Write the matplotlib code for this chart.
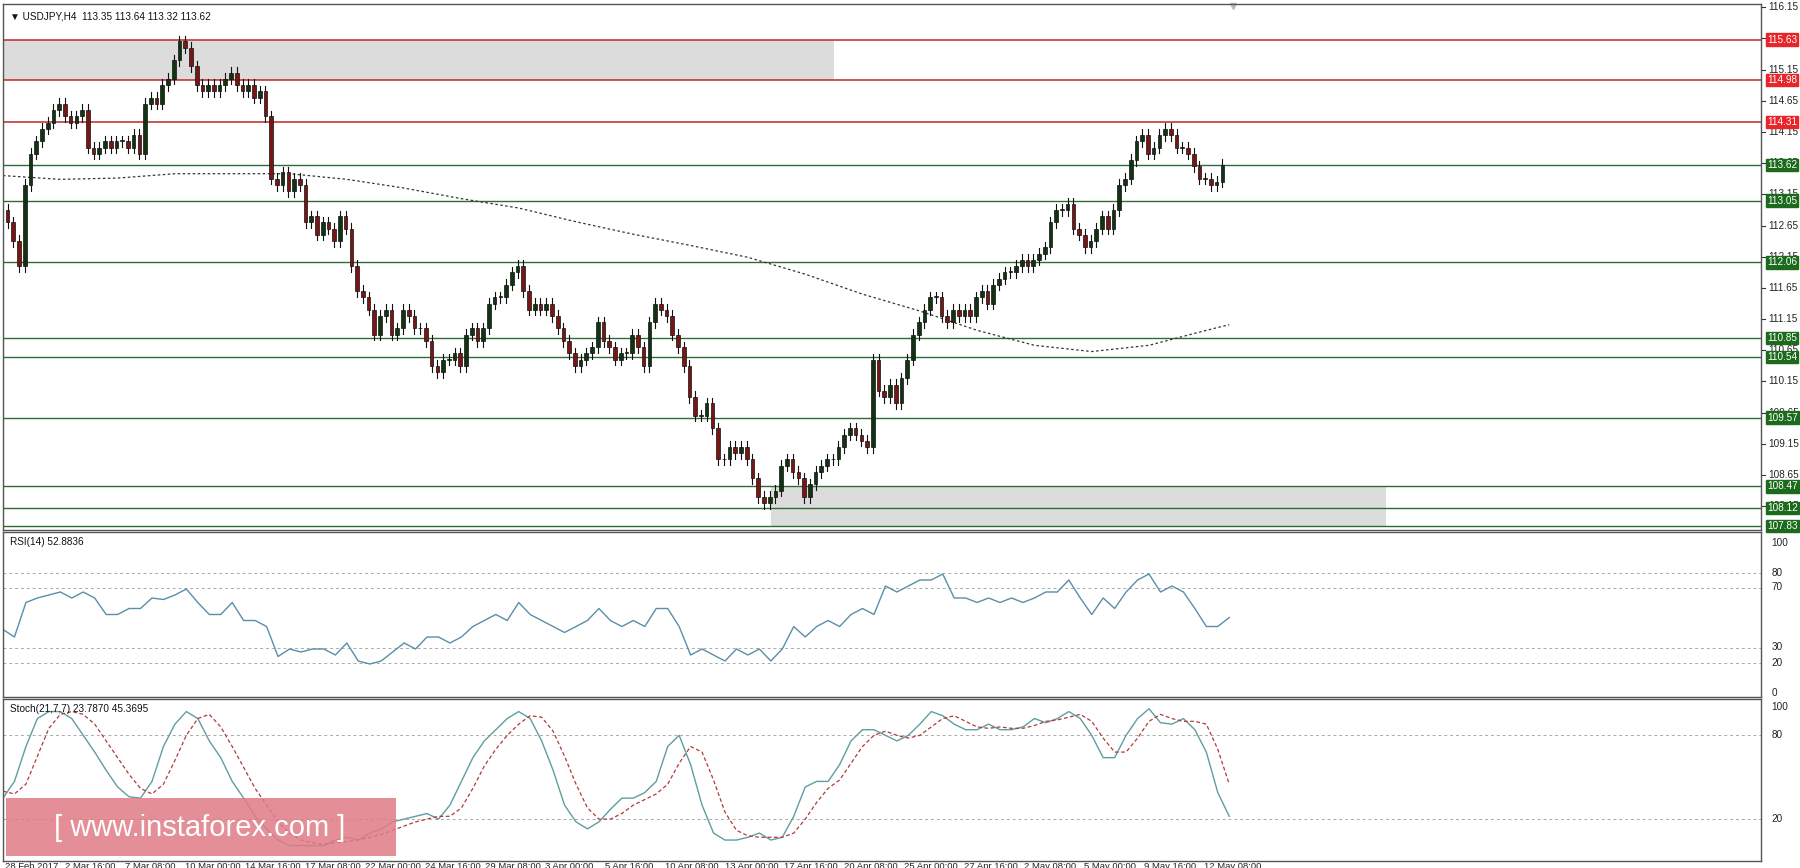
import matplotlib
matplotlib.use("Agg")
import matplotlib.pyplot as plt
import matplotlib.transforms as mtr
from matplotlib.patches import Rectangle
import numpy as np

plt.rcParams['font.family'] = ['Liberation Sans', 'DejaVu Sans']

# ---------------- data ----------------
closes = [112.7,112.4,112.0,113.3,113.8,114.0,114.2,114.3,114.5,114.6,114.4,114.3,114.4,114.5,113.9,113.8,113.9,114.0,113.9,114.0,
          114.0,113.9,114.1,113.8,114.6,114.7,114.6,114.9,115.0,115.3,115.6,115.5,115.2,114.9,114.8,114.9,114.8,114.9,115.0,115.1,
          114.9,114.8,114.9,114.7,114.8,114.4,113.4,113.3,113.5,113.2,113.4,113.3,112.7,112.8,112.5,112.7,112.6,112.4,112.8,112.6,
          112.0,111.6,111.5,111.3,110.9,111.2,111.3,110.9,111.0,111.3,111.2,111.0,111.0,110.8,110.4,110.3,110.5,110.5,110.6,110.4,
          110.9,111.0,110.8,111.0,111.4,111.5,111.5,111.7,111.9,112.0,111.6,111.3,111.4,111.3,111.4,111.2,111.0,110.8,110.6,110.4,
          110.5,110.6,110.7,111.1,110.8,110.7,110.5,110.6,110.6,110.9,110.7,110.4,111.1,111.4,111.3,111.2,110.9,110.7,110.4,109.9,
          109.6,109.6,109.8,109.4,108.9,108.9,109.1,109.0,109.1,108.9,108.6,108.3,108.2,108.3,108.4,108.8,108.9,108.7,108.6,108.3,
          108.5,108.7,108.8,108.9,108.9,109.1,109.3,109.4,109.3,109.2,109.1,110.5,110.0,109.9,110.1,109.8,110.2,110.5,110.9,111.1,
          111.3,111.5,111.5,111.2,111.1,111.3,111.2,111.3,111.2,111.5,111.6,111.4,111.7,111.8,111.9,111.9,112.0,112.1,112.0,112.1,
          112.2,112.3,112.7,112.9,112.9,113.0,112.6,112.5,112.3,112.4,112.6,112.8,112.6,112.9,113.3,113.4,113.7,114.0,114.1,113.8,
          113.9,114.1,114.2,114.1,113.9,113.9,113.8,113.6,113.4,113.4,113.3,113.35,113.62]
first_open = 112.9

ma_x = [0,50,100,150,200,250,300,350,400,450,500,550,600,650,700,750,800,850,900,950,1000,1050,1070]
ma_vals = [113.45,113.39,113.41,113.48,113.48,113.48,113.39,113.25,113.08,112.93,112.71,112.51,112.33,112.14,111.87,
           111.55,111.28,110.97,110.73,110.63,110.73,110.97,111.06]

rsi_vals = [42,37,60,63,65,67,63,67,63,52,52,56,56,63,62,65,69,60,52,52,60,48,48,44,24,29,27,29,29,25,33,21,19,21,27,33,
            29,37,37,33,37,44,48,52,48,60,52,48,44,40,44,48,56,48,44,48,44,56,56,44,25,29,25,21,29,25,29,21,29,44,37,44,48,
            44,52,56,52,71,67,71,75,75,79,63,63,60,63,60,63,60,63,67,67,75,63,52,63,56,67,75,79,67,71,67,56,44,44,50]

stoch_main = [35,47,72,92,97,97,92,80,68,55,43,36,35,47,72,88,97,92,76,64,47,35,22,13,5,1,1,1,1,5,7,5,10,13,18,20,22,24,20,
              30,47,64,76,84,92,97,92,76,55,30,18,13,18,27,35,35,39,47,72,80,59,30,10,5,5,7,10,5,7,22,43,47,47,59,76,84,84,
              80,76,80,88,97,94,88,84,84,88,84,84,86,92,89,92,97,92,80,64,64,80,92,99,89,88,92,84,68,39,22]
stoch_sig = [40,38,45,65,85,95,97,95,88,76,64,52,42,38,45,62,80,92,95,86,72,57,42,30,18,10,5,3,2,3,4,5,7,9,12,15,18,20,22,
             22,28,42,58,70,80,88,94,93,83,65,45,28,20,20,24,30,34,38,45,60,72,68,48,25,12,8,7,7,7,10,20,32,42,48,60,72,80,
             83,80,78,80,86,92,94,90,86,85,86,85,85,87,90,91,93,95,90,78,68,68,78,90,95,92,90,90,88,70,45]

red_levels = [115.63, 114.98, 114.31]
green_levels = [113.62, 113.05, 112.06, 110.85, 110.54, 109.57, 108.47, 108.12, 107.83]
zone_top = (114.98, 115.63, 0, 725)
zone_bot = (107.83, 108.47, 670, 1207)
price_ticks = [116.15,115.65,115.15,114.65,114.15,113.65,113.15,112.65,112.15,111.65,111.15,110.65,110.15,109.65,109.15,108.65,108.15]
date_labels = ["28 Feb 2017","2 Mar 16:00","7 Mar 08:00","10 Mar 00:00","14 Mar 16:00","17 Mar 08:00","22 Mar 00:00",
               "24 Mar 16:00","29 Mar 08:00","3 Apr 00:00","5 Apr 16:00","10 Apr 08:00","13 Apr 00:00","17 Apr 16:00",
               "20 Apr 08:00","25 Apr 00:00","27 Apr 16:00","2 May 08:00","5 May 00:00","9 May 16:00","12 May 08:00"]

# ---------------- figure ----------------
W, H = 1800, 868
fig = plt.figure(figsize=(18, 8.68), dpi=100)
fig.patch.set_facecolor("white")
L, R = 3/W, 1761/W
def mk(top, bot):
    return fig.add_axes([L, 1-bot/H, R-L, (bot-top)/H])
ax = mk(4, 530)
ax2 = mk(532, 697)
ax3 = mk(699, 861)
XMAX = 1534
for a in (ax, ax2, ax3):
    a.set_xlim(0, XMAX)
    a.set_xticks([]); a.set_yticks([])
    for s in a.spines.values():
        s.set_color("#555555"); s.set_linewidth(1)
ax.set_ylim(107.77, 116.2)
ax2.set_ylim(-3, 107)
ax3.set_ylim(-10, 106)
fs = 7.2

# zones
for lo, hi, x0, x1 in (zone_top, zone_bot):
    ax.add_patch(Rectangle((x0, lo), x1-x0, hi-lo, color="#dcdcdc", zorder=0, lw=0))

# candles
step = 5
xs = 4 + step*np.arange(len(closes))
opens = [first_open] + closes[:-1]
for x, o, c in zip(xs, opens, closes):
    up = c >= o
    col = "#123312" if up else "#7a1515"
    lo_, hi_ = min(o, c), max(o, c)
    ax.plot([x, x], [lo_-0.09, hi_+0.09], color="#111111", lw=0.8, zorder=3)
    ax.add_patch(Rectangle((x-1.6, lo_), 3.2, max(hi_-lo_, 0.015), facecolor=col, edgecolor="#111111", lw=0.5, zorder=4))

ax.plot(ma_x, ma_vals, color="#333333", lw=0.9, ls=(0, (2, 2)), zorder=2)

tr = mtr.blended_transform_factory(ax.transAxes, ax.transData)
for v in red_levels:
    ax.axhline(v, color="#c0262a", lw=1.1, zorder=1)
for v in green_levels:
    ax.axhline(v, color="#2f6b35", lw=1.0, zorder=1)
for v in price_ticks:
    ax.text(1.004, v, f"{v:.2f}", transform=tr, fontsize=fs, va="center", ha="left", color="#222222", clip_on=False)
    ax.plot([1.0, 1.002], [v, v], transform=tr, color="#333333", lw=0.8, clip_on=False)
for v, cl in [(x, "#e8262a") for x in red_levels] + [(x, "#1c6b1c") for x in green_levels]:
    ax.text(1.0035, v, f"{v:.2f}", transform=tr, fontsize=fs, va="center", ha="left", color="white", clip_on=False,
            bbox=dict(boxstyle="square,pad=0.12", fc=cl, ec=cl))
ax.text(0.004, 0.985, "▼ USDJPY,H4  113.35 113.64 113.32 113.62", transform=ax.transAxes, fontsize=fs, va="top", color="#111111")
ax.plot([1073], [116.16], marker="v", color="#bbbbbb", ms=5, clip_on=False)

# RSI
rx = 10*np.arange(len(rsi_vals))
for v in (80, 70, 30, 20):
    ax2.axhline(v, color="#aaaaaa", lw=0.7, ls=(0, (3, 3)))
ax2.plot(rx, rsi_vals, color="#5a8ea8", lw=1.0)
tr2 = mtr.blended_transform_factory(ax2.transAxes, ax2.transData)
for v in (100, 80, 70, 30, 20, 0):
    ax2.text(1.006, v, str(v), transform=tr2, fontsize=fs, va="center", ha="left", color="#222222", clip_on=False)
ax2.text(0.004, 0.97, "RSI(14) 52.8836", transform=ax2.transAxes, fontsize=fs, va="top", color="#111111")

# Stochastic
sx = 10*np.arange(len(stoch_main))
for v in (80, 20):
    ax3.axhline(v, color="#aaaaaa", lw=0.7, ls=(0, (3, 3)))
ax3.plot(sx, stoch_main, color="#5f9ea0", lw=1.0)
ax3.plot(sx, stoch_sig, color="#b03a3a", lw=0.9, ls=(0, (3, 2)))
tr3 = mtr.blended_transform_factory(ax3.transAxes, ax3.transData)
for v in (100, 80, 20):
    ax3.text(1.006, v, str(v), transform=tr3, fontsize=fs, va="center", ha="left", color="#222222", clip_on=False)
ax3.text(0.004, 0.97, "Stoch(21,7,7) 23.7870 45.3695", transform=ax3.transAxes, fontsize=fs, va="top", color="#111111")

# date labels
for i, lab in enumerate(date_labels):
    xpos = 2 + 52.3*i
    ax3.text(xpos, -0.005, lab, transform=mtr.blended_transform_factory(ax3.transData, ax3.transAxes),
             fontsize=6.8, va="top", ha="left", color="#222222", clip_on=False)

# watermark
fig.patches.append(Rectangle((6/W, 1-856/H), 390/W, 58/H, transform=fig.transFigure,
                             facecolor="#e07c86", alpha=0.85, edgecolor="none", zorder=10))
fig.text(200/W, 1-828/H, "[ www.instaforex.com ]", fontsize=21, color="white", ha="center", va="center", zorder=11)

fig.savefig("out.png", dpi=100, facecolor="white")
